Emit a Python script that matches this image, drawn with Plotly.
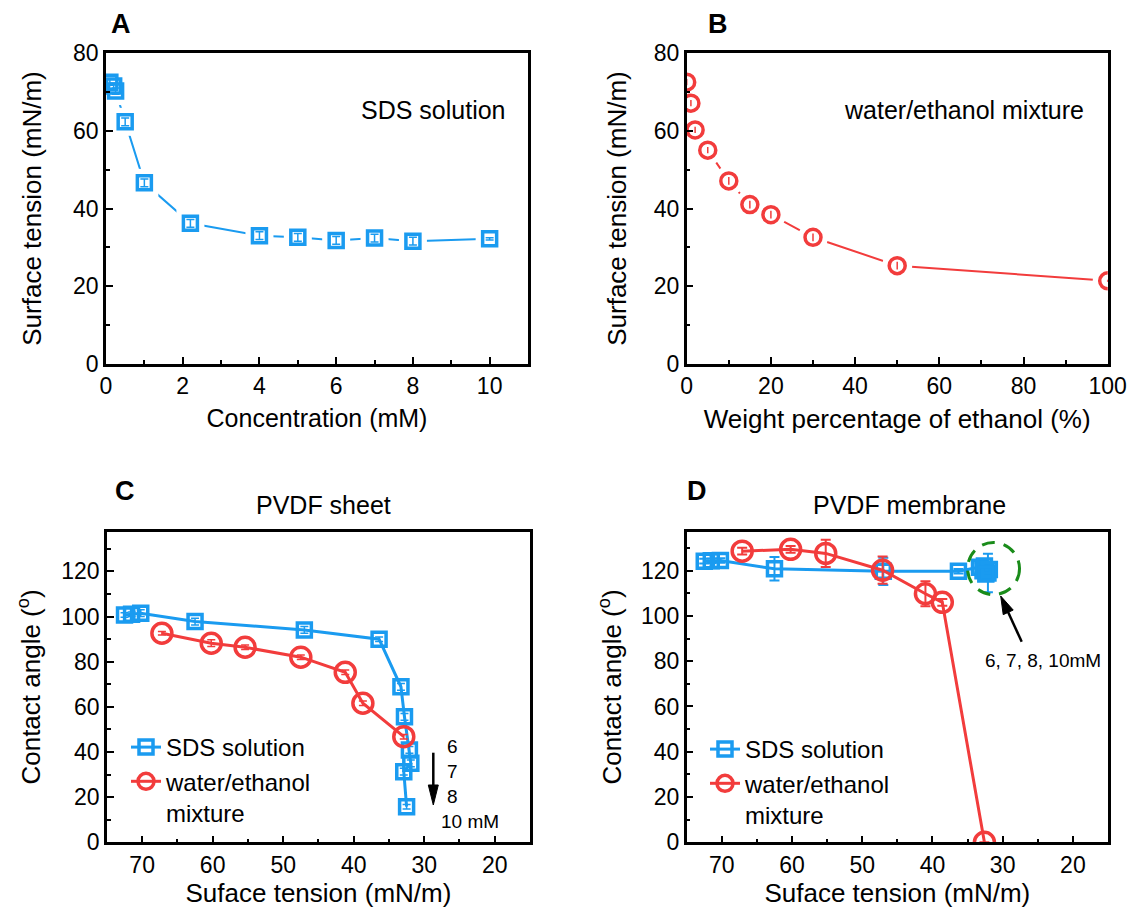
import plotly.graph_objects as go

# ---------------- data ----------------
# Panel A: SDS solution surface tension
sds_conc = [0.1, 0.2, 0.25, 0.5, 1, 2.2, 4, 5, 6, 7, 8, 10]
sds_st = [72.5, 71.5, 70.2, 62.3, 46.6, 36.2, 33.0, 32.6, 31.8, 32.4, 31.6, 32.2]
sds_st_err = [0.8, 0.8, 0.8, 1.0, 1.0, 1.0, 1.0, 1.0, 1.0, 1.0, 1.0, 0.3]

# Panel B: water/ethanol surface tension
eth_pct = [0, 1, 2, 5, 10, 15, 20, 30, 50, 100]
eth_st = [72.5, 67.1, 60.2, 55.0, 47.1, 41.0, 38.4, 32.6, 25.3, 21.4]
eth_st_err = [0.8, 0.8, 0.8, 0.8, 1.0, 1.0, 1.0, 1.0, 1.0, 0.3]

# Panel C: PVDF sheet contact angles
c_sds_st = [72.5, 71.5, 70.2, 62.5, 47.0, 36.4, 33.3, 32.8, 32.1, 31.9, 32.9, 32.5]
c_sds_ca = [100.7, 101.0, 101.5, 97.8, 94.1, 90.0, 68.9, 55.6, 40.9, 35.0, 31.3, 15.8]
c_sds_err = [1.0, 1.0, 1.5, 1.5, 1.5, 1.0, 1.5, 1.5, 1.5, 1.5, 1.5, 1.0]
c_eth_st = [67.2, 60.2, 55.4, 47.5, 41.2, 38.7, 32.9]
c_eth_ca = [92.6, 88.2, 86.4, 82.0, 75.3, 61.6, 46.8]
c_eth_err = [0.8, 1.5, 1.0, 1.0, 1.0, 1.0, 1.0]

# Panel D: PVDF membrane contact angles
d_sds_st = [72.5, 71.5, 70.2, 62.5, 47.0, 36.3, 33.3, 32.8, 32.1, 32.6, 31.9, 32.4]
d_sds_ca = [124.2, 124.4, 124.5, 120.8, 119.7, 119.7, 121.5, 120.0, 119.0, 122.0, 120.5, 118.5]
d_sds_err = [1.0, 1.0, 1.0, 5.2, 6.0, 1.0, 2.0, 3.0, 8.5, 3.0, 2.0, 3.0]
d_eth_st = [67.1, 60.2, 55.2, 47.1, 41.0, 38.6, 32.6]
d_eth_ca = [128.6, 129.4, 127.6, 120.2, 109.8, 106.0, 0.0]
d_eth_err = [1.5, 1.5, 6.0, 6.0, 5.5, 1.5, 0.0]

BLUE = "#1a9bf0"
RED = "#f23c3c"
GREEN = "#1a8c1a"
FONT = "Liberation Sans, Arial, Helvetica, sans-serif"

# page body has an 8 px margin; figure is sized to fit the 1135x916 window
OFF = 8
W, H = 1135 - 2 * OFF, 916 - 2 * OFF


def px_x(p):
    return (p - OFF) / W


def px_y(p):
    return (H - (p - OFF)) / H


fig = go.Figure()

# A : line, white halo (gap around markers), markers
fig.add_trace(go.Scatter(x=sds_conc, y=sds_st, mode="lines", xaxis="x", yaxis="y",
                         line=dict(color=BLUE, width=2), showlegend=False, hoverinfo="skip"))
fig.add_trace(go.Scatter(x=sds_conc, y=sds_st, mode="markers", xaxis="x", yaxis="y",
                         marker=dict(symbol="square", size=28, color="white", line=dict(width=0)),
                         showlegend=False, hoverinfo="skip"))
fig.add_trace(go.Scatter(
    x=sds_conc, y=sds_st, mode="markers", xaxis="x", yaxis="y",
    marker=dict(symbol="square-open", size=14, color=BLUE, line=dict(width=3.5, color=BLUE)),
    error_y=dict(type="data", array=sds_st_err, color=BLUE, thickness=1.5, width=4),
    showlegend=False))
# B
fig.add_trace(go.Scatter(x=eth_pct, y=eth_st, mode="lines", xaxis="x2", yaxis="y2",
                         line=dict(color=RED, width=2), showlegend=False, hoverinfo="skip"))
fig.add_trace(go.Scatter(x=eth_pct, y=eth_st, mode="markers", xaxis="x2", yaxis="y2",
                         marker=dict(symbol="circle", size=30, color="white", line=dict(width=0)),
                         showlegend=False, hoverinfo="skip"))
fig.add_trace(go.Scatter(
    x=eth_pct, y=eth_st, mode="markers", xaxis="x2", yaxis="y2",
    marker=dict(symbol="circle-open", size=16, color=RED, line=dict(width=3.5, color=RED)),
    error_y=dict(type="data", array=eth_st_err, color=RED, thickness=1.5, width=0),
    showlegend=False))
# C
fig.add_trace(go.Scatter(
    x=c_sds_st, y=c_sds_ca, mode="lines+markers", xaxis="x3", yaxis="y3",
    name="SDS solution", legend="legend",
    line=dict(color=BLUE, width=3),
    marker=dict(symbol="square-open", size=14, color=BLUE, line=dict(width=3.5, color=BLUE)),
    error_y=dict(type="data", array=c_sds_err, color=BLUE, thickness=1.5, width=4)))
fig.add_trace(go.Scatter(
    x=c_eth_st, y=c_eth_ca, mode="lines+markers", xaxis="x3", yaxis="y3",
    name="water/ethanol<br>mixture", legend="legend",
    line=dict(color=RED, width=3),
    marker=dict(symbol="circle-open", size=20, color=RED, line=dict(width=3.5, color=RED)),
    error_y=dict(type="data", array=c_eth_err, color=RED, thickness=1.5, width=4)))
# D
fig.add_trace(go.Scatter(
    x=d_sds_st, y=d_sds_ca, mode="lines+markers", xaxis="x4", yaxis="y4",
    name="SDS solution", legend="legend2",
    line=dict(color=BLUE, width=3),
    marker=dict(symbol="square-open", size=14, color=BLUE, line=dict(width=3.5, color=BLUE)),
    error_y=dict(type="data", array=d_sds_err, color=BLUE, thickness=2, width=5)))
fig.add_trace(go.Scatter(
    x=d_eth_st, y=d_eth_ca, mode="lines+markers", xaxis="x4", yaxis="y4",
    name="water/ethanol<br>mixture", legend="legend2",
    line=dict(color=RED, width=3),
    marker=dict(symbol="circle-open", size=20, color=RED, line=dict(width=3.5, color=RED)),
    error_y=dict(type="data", array=d_eth_err, color=RED, thickness=2, width=5)))


def axis(domain, rng, dtick, mdtick, anchor, title, tsize=23, ttsize=25, standoff=10):
    return dict(domain=domain, range=rng, dtick=dtick, tick0=0, anchor=anchor,
                automargin=False,
                showline=True, mirror=True, linecolor="black", linewidth=2.5,
                ticks="inside", ticklen=7, tickwidth=2, tickcolor="black",
                minor=dict(dtick=mdtick, ticks="inside", ticklen=4, tickwidth=2, tickcolor="black", tick0=0),
                showgrid=False, zeroline=False,
                tickfont=dict(family=FONT, size=tsize, color="black"),
                title=dict(text=title, font=dict(family=FONT, size=ttsize, color="black"), standoff=standoff))


xa = [px_x(106), px_x(528)]
xb = [px_x(686.7), px_x(1107.7)]
xc = [px_x(106.9), px_x(530)]
xd = [px_x(686.7), px_x(1108)]
ytop = [px_y(364), px_y(53)]
ybot = [px_y(842.3), px_y(531.7)]

fig.update_layout(
    width=W, height=H, margin=dict(l=0, r=0, t=0, b=0, autoexpand=False),
    paper_bgcolor="white", plot_bgcolor="white",
    font=dict(family=FONT, color="black"),
    xaxis=axis(xa, [0, 11], 2, 1, "y", "Concentration (mM)", standoff=12),
    yaxis=axis(ytop, [0, 80], 20, 10, "x", "Surface tension (mN/m)", ttsize=26, standoff=24),
    xaxis2=axis(xb, [0, 100], 20, 10, "y2", "Weight percentage of ethanol (%)", ttsize=26, standoff=12),
    yaxis2=axis(ytop, [0, 80], 20, 10, "x2", "Surface tension (mN/m)", ttsize=26, standoff=20),
    xaxis3=axis(xc, [75, 15], 10, 5, "y3", "Suface tension (mN/m)", ttsize=26, standoff=9),
    yaxis3=axis(ybot, [0, 137.6], 20, 10, "x3", "Contact angle (<sup>o</sup>)", ttsize=26, standoff=14),
    xaxis4=axis(xd, [75, 15], 10, 5, "y4", "Suface tension (mN/m)", ttsize=26, standoff=9),
    yaxis4=axis(ybot, [0, 137.2], 20, 10, "x4", "Contact angle (<sup>o</sup>)", ttsize=26, standoff=12),
    legend=dict(x=px_x(126), y=px_y(725), xanchor="left", yanchor="top",
                bgcolor="rgba(0,0,0,0)", font=dict(family=FONT, size=24, color="black"),
                valign="top", tracegroupgap=0),
    legend2=dict(x=px_x(705), y=px_y(727), xanchor="left", yanchor="top",
                 bgcolor="rgba(0,0,0,0)", font=dict(family=FONT, size=24, color="black"),
                 valign="top", tracegroupgap=0),
)


def label(txt, x, y, size, xanchor="center"):
    return dict(text=txt, x=px_x(x), y=px_y(y), xref="paper", yref="paper",
                xanchor=xanchor, yanchor="middle", showarrow=False,
                font=dict(family=FONT, size=size, color="black"))


ann = []
for txt, x, y in [("A", 121, 24), ("B", 718, 24), ("C", 125, 491), ("D", 697, 491)]:
    ann.append(label("<b>%s</b>" % txt, x, y, 27))
ann.append(label("PVDF sheet", 323, 505, 25))
ann.append(label("PVDF membrane", 910, 505, 25))
ann.append(label("SDS solution", 508, 110, 25, xanchor="right"))
ann.append(label("water/ethanol mixture", 1086, 110, 25, xanchor="right"))
for txt, y in [("6", 746), ("7", 771), ("8", 796)]:
    ann.append(label(txt, 452, y, 19))
ann.append(label("10 mM", 470, 821, 19))
ann.append(label("6, 7, 8, 10mM", 1043, 660, 19))
fig.update_layout(annotations=ann)


def arrow(x0, y0, x1, y1, head=18, half=5.5, width=2.5):
    """Arrow from pixel (x0,y0) to tip (x1,y1), drawn as paper-space shapes."""
    dx, dy = x1 - x0, y1 - y0
    L = (dx * dx + dy * dy) ** 0.5
    ux, uy = dx / L, dy / L
    bx, by = x1 - head * ux, y1 - head * uy
    px_, py_ = -uy, ux
    c1 = (bx + half * px_, by + half * py_)
    c2 = (bx - half * px_, by - half * py_)
    fig.add_shape(type="line", xref="paper", yref="paper",
                  x0=px_x(x0), y0=px_y(y0), x1=px_x(bx + 2 * ux), y1=px_y(by + 2 * uy),
                  line=dict(color="black", width=width))
    path = "M %f,%f L %f,%f L %f,%f Z" % (px_x(x1), px_y(y1), px_x(c1[0]), px_y(c1[1]),
                                          px_x(c2[0]), px_y(c2[1]))
    fig.add_shape(type="path", xref="paper", yref="paper", path=path,
                  fillcolor="black", line=dict(color="black", width=1))


arrow(433.3, 752.7, 433.3, 805, head=20, half=5, width=2.5)
arrow(1021.7, 641.7, 1000.7, 596, head=18, half=5.5, width=2.5)

fig.add_shape(type="circle", xref="x4", yref="y4", x0=35.0, x1=27.6, y0=109.4, y1=132.4,
              line=dict(color=GREEN, width=3, dash="13px,9px"))

fig.write_html("out.html")
